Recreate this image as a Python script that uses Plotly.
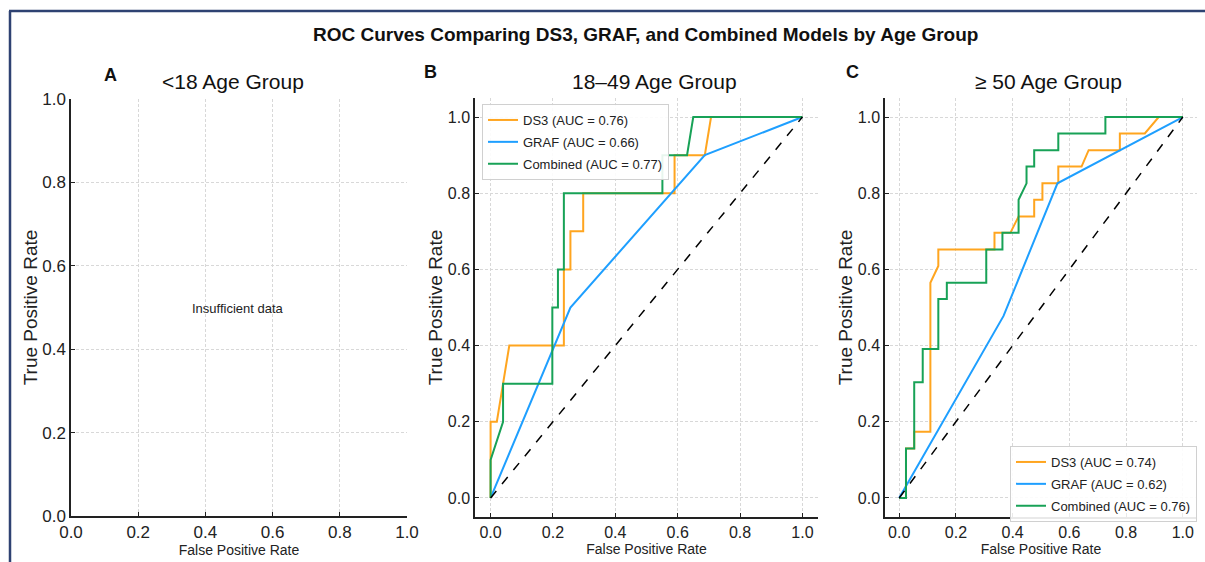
import plotly.graph_objects as go

# ---------------- data ----------------
TICKS = [0.0, 0.2, 0.4, 0.6, 0.8, 1.0]
TICK_LABELS = ["0.0", "0.2", "0.4", "0.6", "0.8", "1.0"]
REF_LINE = [0.0, 1.0]

# 18-49 age group
B_DS3_FPR = [0, 0, 0.02, 0.04, 0.06, 0.235, 0.235, 0.256, 0.256, 0.297, 0.297, 0.59, 0.59, 0.687, 0.707, 1.0]
B_DS3_TPR = [0, 0.2, 0.2, 0.3, 0.4, 0.4, 0.6, 0.6, 0.7, 0.7, 0.8, 0.8, 0.9, 0.9, 1.0, 1.0]
B_GRAF_FPR = [0, 0.256, 0.687, 1.0]
B_GRAF_TPR = [0, 0.5, 0.9, 1.0]
B_COMB_FPR = [0, 0, 0.04, 0.04, 0.198, 0.198, 0.216, 0.216, 0.235, 0.235, 0.551, 0.551, 0.63, 0.65, 1.0]
B_COMB_TPR = [0, 0.1, 0.2, 0.3, 0.3, 0.5, 0.5, 0.6, 0.6, 0.8, 0.8, 0.9, 0.9, 1.0, 1.0]
B_NAMES = ["DS3 (AUC = 0.76)", "GRAF (AUC = 0.66)", "Combined (AUC = 0.77)"]

# >=50 age group
C_DS3_FPR = [0, 0.024, 0.024, 0.053, 0.053, 0.11, 0.11, 0.138, 0.138, 0.336, 0.336, 0.392, 0.421,
             0.476, 0.476, 0.505, 0.505, 0.561, 0.561, 0.643, 0.668, 0.778, 0.778, 0.866, 0.915, 1.0]
C_DS3_TPR = [0, 0, 0.13, 0.13, 0.174, 0.174, 0.565, 0.609, 0.652, 0.652, 0.696, 0.696, 0.739,
             0.739, 0.783, 0.783, 0.826, 0.826, 0.870, 0.870, 0.913, 0.913, 0.957, 0.957, 1.0, 1.0]
C_GRAF_FPR = [0, 0.368, 0.558, 1.0]
C_GRAF_TPR = [0, 0.478, 0.826, 1.0]
C_COMB_FPR = [0, 0.024, 0.024, 0.053, 0.053, 0.083, 0.083, 0.138, 0.138, 0.168, 0.168, 0.307, 0.307,
              0.364, 0.364, 0.421, 0.421, 0.449, 0.449, 0.476, 0.476, 0.561, 0.561, 0.727, 0.727, 1.0]
C_COMB_TPR = [0, 0, 0.13, 0.13, 0.304, 0.304, 0.391, 0.391, 0.522, 0.522, 0.565, 0.565, 0.652,
              0.652, 0.696, 0.696, 0.783, 0.826, 0.870, 0.870, 0.913, 0.913, 0.957, 0.957, 1.0, 1.0]
C_NAMES = ["DS3 (AUC = 0.74)", "GRAF (AUC = 0.62)", "Combined (AUC = 0.76)"]

PANEL_TITLES = ["<18 Age Group", "18\u201349 Age Group", "\u2265 50 Age Group"]
PANEL_LETTERS = ["A", "B", "C"]

# ---------------- style ----------------
W, H = 1205, 562
FONT = "Liberation Sans, Arial, sans-serif"
ORANGE, BLUE, GREEN = "#FFA51F", "#1E9FFF", "#18A257"
INK = "#222222"


def px_x(p):
    return p / W


def px_y(p):
    return 1 - p / H


fig = go.Figure()

for i, (fpr, tpr, name, col) in enumerate([(B_DS3_FPR, B_DS3_TPR, B_NAMES[0], ORANGE),
                                           (B_GRAF_FPR, B_GRAF_TPR, B_NAMES[1], BLUE),
                                           (B_COMB_FPR, B_COMB_TPR, B_NAMES[2], GREEN)]):
    fig.add_trace(go.Scatter(x=fpr, y=tpr, mode="lines", name=name,
                             line=dict(color=col, width=2), xaxis="x2", yaxis="y2",
                             legend="legend", legendgroup="b%d" % i))
fig.add_trace(go.Scatter(x=REF_LINE, y=REF_LINE, mode="lines", showlegend=False,
                         line=dict(color="black", width=1.5, dash="dash"), xaxis="x2", yaxis="y2"))

for i, (fpr, tpr, name, col) in enumerate([(C_DS3_FPR, C_DS3_TPR, C_NAMES[0], ORANGE),
                                           (C_GRAF_FPR, C_GRAF_TPR, C_NAMES[1], BLUE),
                                           (C_COMB_FPR, C_COMB_TPR, C_NAMES[2], GREEN)]):
    fig.add_trace(go.Scatter(x=fpr, y=tpr, mode="lines", name=name,
                             line=dict(color=col, width=2), xaxis="x3", yaxis="y3",
                             legend="legend2", legendgroup="c%d" % i))
fig.add_trace(go.Scatter(x=REF_LINE, y=REF_LINE, mode="lines", showlegend=False,
                         line=dict(color="black", width=1.5, dash="dash"), xaxis="x3", yaxis="y3"))

# empty trace to keep panel A axes alive
fig.add_trace(go.Scatter(x=[None], y=[None], mode="lines", showlegend=False, xaxis="x", yaxis="y"))


def axis_common(rng, dom, anchor, size):
    return dict(range=rng, domain=dom, anchor=anchor, showline=True, linecolor=INK,
                linewidth=1.5, mirror=False, ticks="inside", ticklen=4, tickcolor=INK,
                tickvals=TICKS, ticktext=TICK_LABELS, showgrid=True, gridcolor="#d8d8d8",
                griddash="3px,2px", gridwidth=1, zeroline=False, automargin=False,
                tickfont=dict(family=FONT, size=size, color=INK))


# panel pixel boxes: (left, right, top, bottom)
BOX_A = (71, 407, 99, 516)
BOX_B = (475, 818, 98, 517)
BOX_C = (885, 1197, 98, 517)

layout = dict(width=W, height=H, margin=dict(l=0, r=0, t=0, b=0, pad=0, autoexpand=False),
              paper_bgcolor="white", plot_bgcolor="white", showlegend=True)

for idx, (box, rng, tsize) in enumerate([(BOX_A, [0, 1], 17), (BOX_B, [-0.05, 1.05], 16),
                                         (BOX_C, [-0.05, 1.05], 16)]):
    sfx = "" if idx == 0 else str(idx + 1)
    xd = [px_x(box[0]), px_x(box[1])]
    yd = [px_y(box[3]), px_y(box[2])]
    xa = axis_common(rng, xd, "y" + sfx, tsize)
    xa["title"] = dict(text="False Positive Rate", font=dict(family=FONT, size=14, color=INK),
                       standoff=4)
    ya = axis_common(rng, yd, "x" + sfx, tsize)
    ya["title"] = dict(text="True Positive Rate", font=dict(family=FONT, size=19, color=INK),
                       standoff=0)
    layout["xaxis" + sfx] = xa
    layout["yaxis" + sfx] = ya

leg_font = dict(family=FONT, size=13, color=INK)
layout["legend"] = dict(x=px_x(482), y=px_y(104), xanchor="left", yanchor="top",
                        bgcolor="rgba(255,255,255,0.9)", bordercolor="#d0d0d0", borderwidth=1,
                        font=leg_font, tracegroupgap=2, itemwidth=30)
layout["legend2"] = dict(x=px_x(1197), y=px_y(522), xanchor="right", yanchor="bottom",
                         bgcolor="rgba(255,255,255,0.9)", bordercolor="#d0d0d0", borderwidth=1,
                         font=leg_font, tracegroupgap=2, itemwidth=30)

annotations = [
    dict(text="<b>ROC Curves Comparing DS3, GRAF, and Combined Models by Age Group</b>",
         x=px_x(645), y=px_y(34), xref="paper", yref="paper", showarrow=False,
         xanchor="center", yanchor="middle",
         font=dict(family=FONT, size=19, color="#111111")),
    dict(text="Insufficient data", x=px_x(238), y=px_y(308), xref="paper", yref="paper",
         showarrow=False, xanchor="center", yanchor="middle",
         font=dict(family=FONT, size=13, color=INK)),
]
for t, cx in zip(PANEL_TITLES, [233, 654, 1048]):
    annotations.append(dict(text=t, x=px_x(cx), y=px_y(81), xref="paper", yref="paper",
                            showarrow=False, xanchor="center", yanchor="middle",
                            font=dict(family=FONT, size=21, color="#111111")))
for t, cx, cy in zip(PANEL_LETTERS, [110, 430, 852], [75, 72, 72]):
    annotations.append(dict(text="<b>" + t + "</b>", x=px_x(cx), y=px_y(cy), xref="paper",
                            yref="paper", showarrow=False, xanchor="center", yanchor="middle",
                            font=dict(family=FONT, size=18, color="#111111")))
layout["annotations"] = annotations

layout["shapes"] = [
    dict(type="line", xref="paper", yref="paper", x0=px_x(9), x1=1, y0=px_y(11), y1=px_y(11),
         line=dict(color="#2E4272", width=2.5)),
    dict(type="line", xref="paper", yref="paper", x0=px_x(10), x1=px_x(10), y0=px_y(11), y1=0,
         line=dict(color="#2E4272", width=2.5)),
]

fig.update_layout(**layout)
fig.write_html("out.html")
